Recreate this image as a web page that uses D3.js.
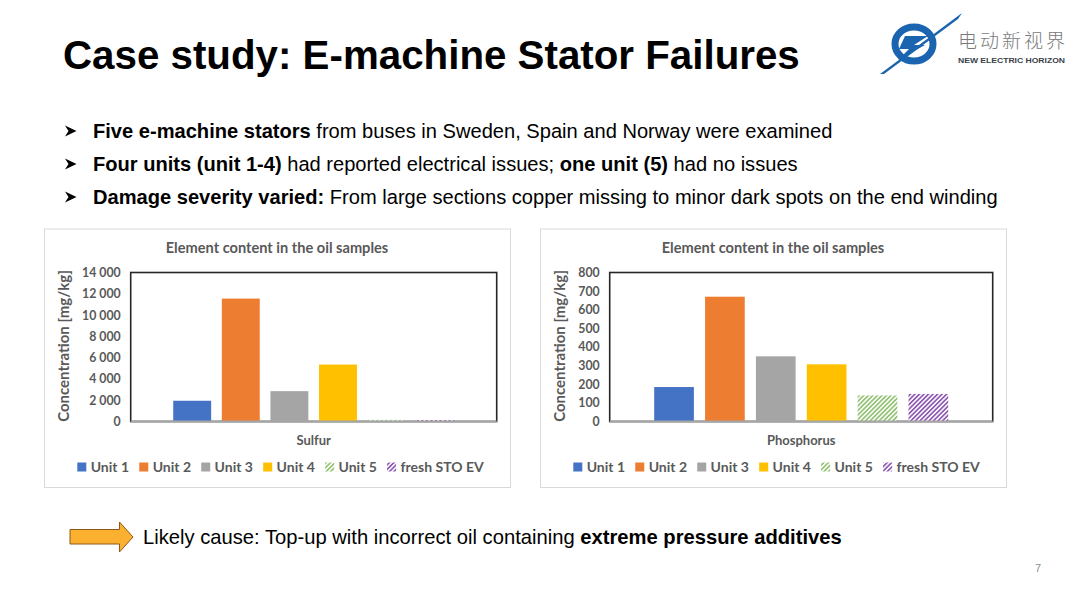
<!DOCTYPE html>
<html>
<head>
<meta charset="utf-8">
<script src="https://cdn.jsdelivr.net/npm/d3@7.9.0/dist/d3.min.js"></script>
<style>
  html, body { margin: 0; padding: 0; background: #fff; }
  svg { display: block; }
</style>
</head>
<body>
<div id="slide"></div>
<script>
// ---------------- data ----------------
const seriesNames = ["Unit 1", "Unit 2", "Unit 3", "Unit 4", "Unit 5", "fresh STO EV"];
const seriesColors = ["#4472C4", "#ED7D31", "#A5A5A5", "#FFC000", "#70AD47", "#7030A0"];
const hatched = [false, false, false, false, true, true];

const sulfurValues = [1950, 11550, 2850, 5350, 150, 140];
const phosphorusValues = [185, 670, 350, 307, 140, 148];

const sulfurTicks = [0, 2000, 4000, 6000, 8000, 10000, 12000, 14000];
const phosphorusTicks = [0, 100, 200, 300, 400, 500, 600, 700, 800];

const bullets = [
  [["Five e-machine stators", true], [" from buses in Sweden, Spain and Norway were examined", false]],
  [["Four units (unit 1-4)", true], [" had reported electrical issues; ", false], ["one unit (5)", true], [" had no issues", false]],
  [["Damage severity varied:", true], [" From large sections copper missing to minor dark spots on the end winding", false]]
];

const W = 1080, H = 608;
const chartFont = "Lato, 'Open Sans', sans-serif";
const slideFont = "'Liberation Sans', Arial, sans-serif";
const grey = "#595959";

const svg = d3.select("#slide").append("svg").attr("width", W).attr("height", H);
const defs = svg.append("defs");

// hatch patterns (upward diagonal)
seriesColors.forEach((c, i) => {
  if (!hatched[i]) return;
  const p = defs.append("pattern")
    .attr("id", "hatch" + i)
    .attr("patternUnits", "userSpaceOnUse")
    .attr("width", 3.2).attr("height", 3.2)
    .attr("patternTransform", "rotate(45)");
  p.append("rect").attr("width", 3.2).attr("height", 3.2).attr("fill", "#fff");
  p.append("rect").attr("width", 1.7).attr("height", 3.2).attr("fill", c).attr("opacity", i === 4 ? 0.75 : 0.8);
});
const fillOf = i => hatched[i] ? `url(#hatch${i})` : seriesColors[i];

// ---------------- heading ----------------
svg.append("text")
  .attr("x", 63).attr("y", 68.5)
  .attr("font-family", slideFont).attr("font-weight", "bold").attr("font-size", 40.3)
  .attr("fill", "#000")
  .text("Case study: E-machine Stator Failures");

// bullets
bullets.forEach((parts, i) => {
  const y = 137.5 + i * 33;
  svg.append("path")
    .attr("d", `M65,${y - 12} L76.5,${y - 6.5} L65,${y - 1} L68.5,${y - 6.5} Z`)
    .attr("fill", "#000");
  const t = svg.append("text")
    .attr("x", 93).attr("y", y)
    .attr("font-family", slideFont).attr("font-size", 20.1).attr("fill", "#000");
  parts.forEach(([s, b]) => t.append("tspan").attr("font-weight", b ? "bold" : "normal").text(s));
});

// ---------------- logo ----------------
const logo = svg.append("g");
logo.append("ellipse").attr("cx", 914).attr("cy", 44).attr("rx", 19).attr("ry", 17)
  .attr("fill", "none").attr("stroke", "#1A64B0").attr("stroke-width", 7);
logo.append("path").attr("d", "M880,74 L962,13 L958,19 L884,74 Z").attr("fill", "#1A64B0");
logo.append("path").attr("d", "M905,36 L928,36 L914,45 L925,45 L898,60 L909,49 L899,49 Z").attr("fill", "#1A64B0");
logo.append("text").attr("x", 958).attr("y", 48)
  .attr("font-family", "'Noto Sans CJK SC', sans-serif").attr("font-size", 19)
  .attr("font-weight", 300).attr("letter-spacing", 3).attr("fill", "#7a7a7a")
  .text("电动新视界");
logo.append("text").attr("x", 958).attr("y", 63)
  .attr("font-family", slideFont).attr("font-size", 7.2).attr("font-weight", "bold")
  .attr("fill", "#3a3f4a").attr("textLength", 107).attr("lengthAdjust", "spacingAndGlyphs")
  .text("NEW ELECTRIC HORIZON");

// ---------------- charts ----------------
const fmt = d3.formatLocale({ decimal: ".", thousands: " ", grouping: [3], currency: ["", ""] }).format(",d");

function drawChart(panel, plot, category, values, ticks) {
  const g = svg.append("g");

  g.append("rect")
    .attr("x", panel.x + 0.5).attr("y", panel.y + 0.5)
    .attr("width", panel.w).attr("height", panel.h)
    .attr("fill", "#fff").attr("stroke", "#d9d9d9").attr("stroke-width", 1);

  g.append("text")
    .attr("x", panel.x + panel.w / 2).attr("y", 253)
    .attr("text-anchor", "middle")
    .attr("font-family", chartFont).attr("font-weight", "bold").attr("font-size", 14.6)
    .attr("fill", grey).text("Element content in the oil samples");

  const y = d3.scaleLinear()
    .domain([0, d3.max(ticks)])
    .range([plot.y + plot.h, plot.y]);

  const inset = plot.w * 0.1162;
  const x = d3.scaleBand()
    .domain(seriesNames)
    .range([plot.x + inset, plot.x + plot.w - inset])
    .paddingInner(0.22)
    .paddingOuter(0);

  // plot area frame
  g.append("rect")
    .attr("x", plot.x).attr("y", plot.y)
    .attr("width", plot.w).attr("height", plot.h)
    .attr("fill", "none").attr("stroke", "#262626").attr("stroke-width", 1.6);

  g.selectAll("rect.bar").data(values).enter().append("rect")
    .attr("class", "bar")
    .attr("x", (d, i) => x(seriesNames[i]))
    .attr("y", d => y(d))
    .attr("width", x.bandwidth())
    .attr("height", d => y(0) - y(d))
    .attr("fill", (d, i) => fillOf(i));

  // category axis line
  g.append("line")
    .attr("x1", plot.x).attr("x2", plot.x + plot.w)
    .attr("y1", y(0)).attr("y2", y(0))
    .attr("stroke", "#a6a6a6").attr("stroke-width", 1.8);

  // y axis labels
  const yAxis = d3.axisLeft(y).tickValues(ticks).tickFormat(fmt).tickSize(0).tickPadding(10);
  const ag = g.append("g").attr("transform", `translate(${plot.x},0)`).call(yAxis);
  ag.select(".domain").remove();
  ag.selectAll("text")
    .attr("font-family", chartFont).attr("font-weight", "bold").attr("font-size", 12.3)
    .attr("fill", grey);

  g.append("text")
    .attr("transform", `translate(${panel.x + 24.5},${plot.y + plot.h / 2 - 1}) rotate(-90)`)
    .attr("text-anchor", "middle")
    .attr("font-family", chartFont).attr("font-weight", "bold").attr("font-size", 15)
    .attr("fill", grey).text("Concentration [mg/kg]");

  g.append("text")
    .attr("x", plot.x + plot.w / 2).attr("y", 444.5)
    .attr("text-anchor", "middle")
    .attr("font-family", chartFont).attr("font-weight", "bold").attr("font-size", 13)
    .attr("fill", grey).text(category);

  // legend
  let lx = panel.x + 33.3;
  const ly = 467;
  seriesNames.forEach((s, i) => {
    g.append("rect").attr("x", lx).attr("y", ly - 4.5).attr("width", 9).attr("height", 9).attr("fill", fillOf(i));
    const t = g.append("text")
      .attr("x", lx + 13.4).attr("y", ly + 5)
      .attr("font-family", chartFont).attr("font-weight", "bold").attr("font-size", 14)
      .attr("fill", grey).text(s);
    lx += 13.4 + t.node().getComputedTextLength() + 10.2;
  });
}

drawChart({ x: 44, y: 228.5, w: 466, h: 258.5 }, { x: 130.7, y: 272.5, w: 366, h: 149 }, "Sulfur", sulfurValues, sulfurTicks);
drawChart({ x: 540, y: 228.5, w: 466, h: 258.5 }, { x: 609.7, y: 272.5, w: 383, h: 149 }, "Phosphorus", phosphorusValues, phosphorusTicks);

// ---------------- conclusion ----------------
svg.append("path")
  .attr("d", "M70,529.5 L119.5,529.5 L119.5,522 L133,537 L119.5,552 L119.5,544 L70,544 Z")
  .attr("fill", "#FBB02F").attr("stroke", "#8C5A16").attr("stroke-width", 1);

const conc = svg.append("text")
  .attr("x", 143).attr("y", 543.5)
  .attr("font-family", slideFont).attr("font-size", 20.2).attr("fill", "#000");
conc.append("tspan").text("Likely cause: Top-up with incorrect oil containing ");
conc.append("tspan").attr("font-weight", "bold").text("extreme pressure additives");

svg.append("text")
  .attr("x", 1038).attr("y", 572)
  .attr("text-anchor", "middle")
  .attr("font-family", slideFont).attr("font-size", 11).attr("fill", "#8c8c8c")
  .text("7");
</script>
</body>
</html>
